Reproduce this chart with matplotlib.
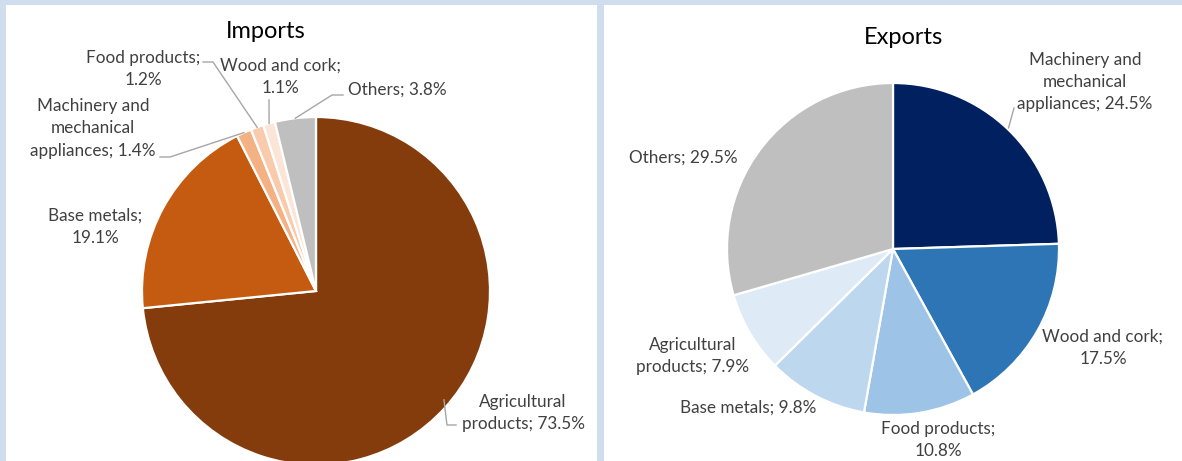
import numpy as np
import matplotlib.pyplot as plt
from matplotlib.patches import Rectangle

plt.rcParams['font.family'] = ['Lato', 'DejaVu Sans']

# Imports
imp_labels = ['Agricultural\nproducts', 'Base metals', 'Machinery and\nmechanical\nappliances',
              'Food products', 'Wood and cork', 'Others']
imp_values = [73.5, 19.1, 1.4, 1.2, 1.1, 3.8]
imp_colors = ['#843C0C', '#C55A11', '#F4B183', '#F8CBAD', '#FBE5D6', '#BFBFBF']

# Exports
exp_labels = ['Machinery and\nmechanical\nappliances', 'Wood and cork', 'Food products',
              'Base metals', 'Agricultural\nproducts', 'Others']
exp_values = [24.5, 17.5, 10.8, 9.8, 7.9, 29.5]
exp_colors = ['#002060', '#2E75B6', '#9DC3E6', '#BDD7EE', '#DEEBF7', '#BFBFBF']

W, H = 1182, 461
fig = plt.figure(figsize=(W / 100, H / 100), dpi=100)
fig.patch.set_facecolor('#CFDDEE')
ax = fig.add_axes([0, 0, 1, 1])
ax.set_xlim(0, W)
ax.set_ylim(H, 0)
ax.axis('off')

# white chart panels
ax.add_patch(Rectangle((6, 5), 591, 460, facecolor='white', edgecolor='none'))
ax.add_patch(Rectangle((604, 5), 580, 460, facecolor='white', edgecolor='none'))

TXT = '#404040'
LINE = '#A6A6A6'


def draw_pie(values, colors, cx, cy, r):
    # y axis is flipped, so counterclock=True gives a clockwise pie on screen
    wedges, _ = ax.pie(values, colors=colors, startangle=-90, counterclock=True,
                       center=(cx, cy), radius=r, normalize=True,
                       wedgeprops=dict(edgecolor='white', linewidth=1.6))
    ax.set_aspect('auto')
    ax.set_xlim(0, W)
    ax.set_ylim(H, 0)
    mids = []
    for w in wedges:
        a = np.deg2rad((w.theta1 + w.theta2) / 2)
        mids.append((cx + r * np.cos(a), cy + r * np.sin(a)))
    return mids


def label(x, y, name, val, split):
    sep = ';\n' if split else '; '
    ax.text(x, y, f'{name}{sep}{val}%', ha='center', va='center', color=TXT,
            fontsize=12.3, linespacing=1.5)


# Imports pie
ax.text(266, 32, 'Imports', ha='center', va='center', fontsize=17, color='black')
m = draw_pie(imp_values, imp_colors, 316, 291, 174)
label(523, 413, imp_labels[0], imp_values[0], False)
label(95, 227, imp_labels[1], imp_values[1], True)
label(93, 128, imp_labels[2], imp_values[2], False)
label(143, 69, imp_labels[3], imp_values[3], True)
label(280, 77, imp_labels[4], imp_values[4], True)
label(397, 90, imp_labels[5], imp_values[5], False)

ax.plot([m[0][0] - 1, m[0][0] + 2, 456], [m[0][1] - 8, 425, 425], color=LINE, lw=1)
ax.plot([160, 170, m[2][0]], [157, 157, m[2][1]], color=LINE, lw=1)
ax.plot([203, 213, m[3][0]], [62, 62, m[3][1]], color=LINE, lw=1)
ax.plot([269, m[4][0]], [100, m[4][1]], color=LINE, lw=1)
ax.plot([343, 332, m[5][0]], [95, 95, m[5][1]], color=LINE, lw=1)

# Exports pie
ax.text(904, 38, 'Exports', ha='center', va='center', fontsize=17, color='black')
m = draw_pie(exp_values, exp_colors, 893, 249, 166)
label(1085, 82, exp_labels[0], exp_values[0], False)
label(1103, 348, exp_labels[1], exp_values[1], True)
label(938, 440, exp_labels[2], exp_values[2], True)
label(748, 408, exp_labels[3], exp_values[3], False)
label(693, 356, exp_labels[4], exp_values[4], False)
label(683, 158, exp_labels[5], exp_values[5], False)

ax.plot([1014, m[0][0]], [108, m[0][1] - 2], color=LINE, lw=1)

fig.savefig('out.png', dpi=100, facecolor=fig.get_facecolor())
